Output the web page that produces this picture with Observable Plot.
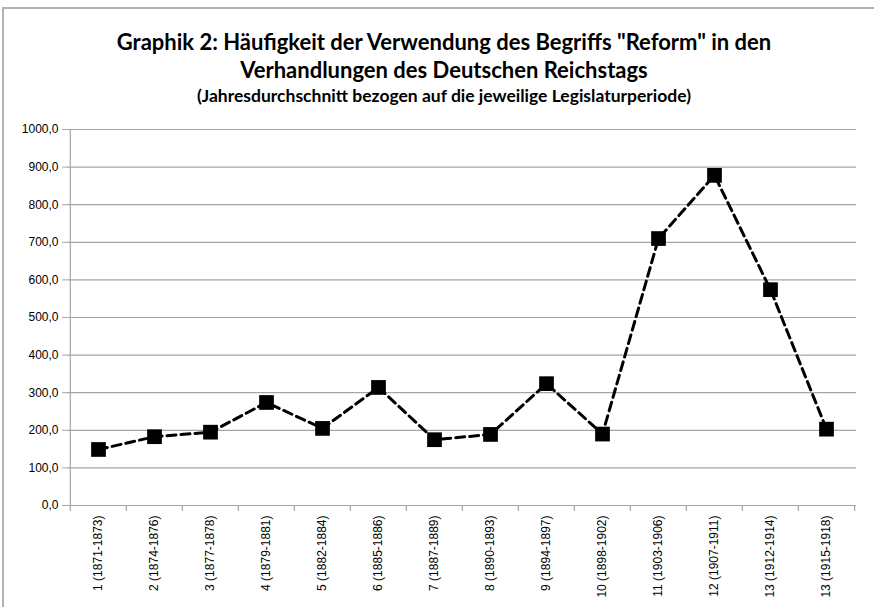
<!DOCTYPE html>
<html>
<head>
<meta charset="utf-8">
<script src="https://cdn.jsdelivr.net/npm/d3@7"></script>
<script src="https://cdn.jsdelivr.net/npm/@observablehq/plot@0.6"></script>
<style>
  html, body { margin: 0; padding: 0; background: #fff; width: 874px; height: 607px; overflow: hidden; }
  #frame { position: absolute; left: 2px; top: 7px; width: 900px; height: 620px; border-left: 2px solid #b3b3b3; border-top: 2px solid #b3b3b3; box-sizing: border-box; }
  #title { position: relative; height: 110px; width: 874px; text-align: center; font-family: Lato, "Open Sans", sans-serif; font-weight: bold; color: #000; }
  #title .l1 { position: absolute; left: 0; width: 888px; top: 29px; font-size: 22px; line-height: 26px; }
  #title .l2 { position: absolute; left: 0; width: 888px; top: 57px; font-size: 22px; line-height: 26px; }
  #title .l3 { position: absolute; left: 0; width: 888px; top: 85px; font-size: 17.5px; line-height: 22px; }
  #chart { position: relative; }
</style>
</head>
<body>
<div id="frame"></div>
<div id="title">
  <div class="l1">Graphik 2: Häufigkeit der Verwendung des Begriffs "Reform" in den</div>
  <div class="l2">Verhandlungen des Deutschen Reichstags</div>
  <div class="l3">(Jahresdurchschnitt bezogen auf die jeweilige Legislaturperiode)</div>
</div>
<div id="chart"></div>
<script>
const categories = [
  "1 (1871-1873)", "2 (1874-1876)", "3 (1877-1878)", "4 (1879-1881)", "5 (1882-1884)",
  "6 (1885-1886)", "7 (1887-1889)", "8 (1890-1893)", "9 (1894-1897)", "10 (1898-1902)",
  "11 (1903-1906)", "12 (1907-1911)", "13 (1912-1914)", "13 (1915-1918)"
];
const values = [149, 183, 195, 274, 205, 314, 175, 189, 324, 190, 710, 878, 574, 203];
const yTicks = [0, 100, 200, 300, 400, 500, 600, 700, 800, 900, 1000];

const data = categories.map((c, i) => ({cat: c, value: values[i]}));

const W = 874, H = 497, mL = 67, mR = 18, mT = 19, mB = 102;
const bw = (W - mL - mR) / categories.length;
const grid = "#a6a6a6";
const fmt = d => d.toFixed(1).replace(".", ",");

const chart = Plot.plot({
  width: W, height: H,
  marginLeft: mL, marginRight: mR, marginTop: mT, marginBottom: mB,
  style: {fontFamily: "Liberation Sans, Arial, sans-serif", fontSize: "12px", background: "transparent", color: "#000"},
  x: {type: "band", domain: categories, padding: 0, label: null},
  y: {domain: [0, 1000], label: null},
  marks: [
    Plot.gridY(yTicks, {stroke: grid, strokeOpacity: 1, strokeWidth: 1.2}),
    Plot.ruleX([categories[0]], {dx: -bw / 2, stroke: grid, strokeWidth: 1.2}),
    Plot.ruleX(categories, {x: d => d, y1: 0, y2: 0, insetBottom: -6, dx: -bw / 2, stroke: grid, strokeWidth: 1.2}),
    Plot.ruleX([categories[categories.length - 1]], {y1: 0, y2: 0, insetBottom: -6, dx: bw / 2, stroke: grid, strokeWidth: 1.2}),
    Plot.axisY(yTicks, {tickSize: 5, tickPadding: 4, tickFormat: fmt, stroke: grid, fill: "#000", label: null}),
    Plot.axisX({tickSize: 0, tickRotate: -90, tickPadding: 10, fill: "#000", label: null}),
    Plot.line(data, {x: "cat", y: "value", stroke: "#000", strokeWidth: 3, strokeDasharray: "9,5"}),
    Plot.dot(data, {x: "cat", y: "value", symbol: "square", r: 8.3, fill: "#000", stroke: "none"})
  ]
});
document.getElementById("chart").appendChild(chart);
</script>
</body>
</html>
